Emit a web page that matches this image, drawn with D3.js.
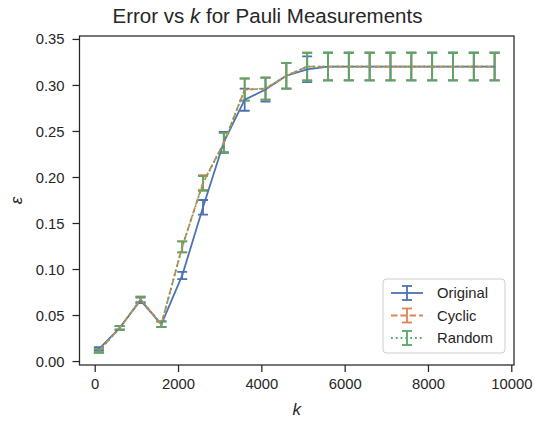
<!DOCTYPE html>
<html>
<head>
<meta charset="utf-8">
<script src="https://cdn.jsdelivr.net/npm/d3@7"></script>
<style>
  html, body { margin: 0; padding: 0; background: #ffffff; }
  svg { display: block; }
  text { font-family: "Liberation Sans", Arial, sans-serif; fill: #262626; }
</style>
</head>
<body>
<svg id="chart" width="535" height="426"></svg>
<script>
// ---- Data ----
const kValues = [100, 600, 1100, 1600, 2100, 2600, 3100, 3600, 4100, 4600, 5100, 5600, 6100, 6600, 7100, 7600, 8100, 8600, 9100, 9600];

const originalValues = [0.013, 0.036, 0.066, 0.040, 0.093, 0.167, 0.238, 0.284, 0.295, 0.310, 0.317, 0.320, 0.320, 0.320, 0.320, 0.320, 0.320, 0.320, 0.320, 0.320];
const originalErrors = [0.002, 0.002, 0.003, 0.003, 0.004, 0.008, 0.011, 0.012, 0.013, 0.014, 0.014, 0.015, 0.015, 0.015, 0.015, 0.015, 0.015, 0.015, 0.015, 0.015];

const cyclicValues = [0.011, 0.036, 0.067, 0.040, 0.124, 0.194, 0.237, 0.295, 0.296, 0.310, 0.320, 0.320, 0.320, 0.320, 0.320, 0.320, 0.320, 0.320, 0.320, 0.320];
const cyclicErrors = [0.002, 0.002, 0.003, 0.003, 0.006, 0.008, 0.011, 0.012, 0.012, 0.014, 0.015, 0.015, 0.015, 0.015, 0.015, 0.015, 0.015, 0.015, 0.015, 0.015];

const randomValues = [0.011, 0.036, 0.067, 0.040, 0.124, 0.193, 0.237, 0.295, 0.296, 0.310, 0.320, 0.320, 0.320, 0.320, 0.320, 0.320, 0.320, 0.320, 0.320, 0.320];
const randomErrors = [0.002, 0.002, 0.003, 0.003, 0.006, 0.008, 0.011, 0.012, 0.012, 0.014, 0.015, 0.015, 0.015, 0.015, 0.015, 0.015, 0.015, 0.015, 0.015, 0.015];

const seriesNames = ["Original", "Cyclic", "Random"];
const xTickValues = [0, 2000, 4000, 6000, 8000, 10000];
const yTickValues = [0.00, 0.05, 0.10, 0.15, 0.20, 0.25, 0.30, 0.35];

const titleText = "Error vs ";
const titleItalic = "k";
const titleRest = " for Pauli Measurements";

// ---- Layout ----
const colors = ["#4C72B0", "#DD8452", "#55A868"];
const dashes = [null, "6.5,2.8", "1.8,3"];
const lw = 1.8;
const series = [
  { name: seriesNames[0], values: originalValues, errors: originalErrors },
  { name: seriesNames[1], values: cyclicValues, errors: cyclicErrors },
  { name: seriesNames[2], values: randomValues, errors: randomErrors }
];

const plot = { left: 79.5, right: 514, top: 36, bottom: 365 };
const svg = d3.select("#chart");

const x = d3.scaleLinear().domain([-365, 10065]).range([plot.left, plot.right]);
const y = d3.scaleLinear().domain([-0.0043, 0.3532]).range([plot.bottom, plot.top]);

// Title
const title = svg.append("text")
  .attr("x", 267.5).attr("y", 23)
  .attr("text-anchor", "middle")
  .style("font-size", "20.5px");
title.append("tspan").text(titleText);
title.append("tspan").style("font-style", "italic").text(titleItalic);
title.append("tspan").text(titleRest);

// Axes
const xAxis = d3.axisBottom(x).tickValues(xTickValues).tickSize(7).tickPadding(6).tickFormat(d3.format("d"));
const yAxis = d3.axisLeft(y).tickValues(yTickValues).tickSize(7).tickPadding(8).tickFormat(d3.format(".2f"));

const gx = svg.append("g").attr("transform", `translate(0,${plot.bottom})`).call(xAxis);
const gy = svg.append("g").attr("transform", `translate(${plot.left},0)`).call(yAxis);
[gx, gy].forEach(g => {
  g.select(".domain").remove();
  g.selectAll(".tick line").attr("stroke", "#262626").attr("stroke-width", 1.25);
  g.selectAll(".tick text").style("font-size", "14.8px").attr("fill", "#262626")
    .style("font-family", "'Liberation Sans', Arial, sans-serif");
});
gy.selectAll(".tick text").attr("dy", "0.34em");

// Frame
svg.append("rect")
  .attr("x", plot.left).attr("y", plot.top)
  .attr("width", plot.right - plot.left).attr("height", plot.bottom - plot.top)
  .attr("fill", "none").attr("stroke", "#262626").attr("stroke-width", 1.25);

// Axis labels
svg.append("text")
  .attr("x", (plot.left + plot.right) / 2).attr("y", 415)
  .attr("text-anchor", "middle")
  .style("font-size", "17px").style("font-style", "italic")
  .text("k");
svg.append("text")
  .attr("transform", `translate(22,${(plot.top + plot.bottom) / 2}) rotate(-90)`)
  .attr("text-anchor", "middle")
  .style("font-size", "17px").style("font-style", "italic")
  .text("ε");

// Clip
svg.append("clipPath").attr("id", "clip").append("rect")
  .attr("x", plot.left).attr("y", plot.top)
  .attr("width", plot.right - plot.left).attr("height", plot.bottom - plot.top);

const plotG = svg.append("g").attr("clip-path", "url(#clip)");
const cap = 5;

// Error bars first
series.forEach((s, i) => {
  const g = plotG.append("g");
  const pts = kValues.map((k, j) => ({ k, v: s.values[j], e: s.errors[j] }));
  g.selectAll("line.bar").data(pts).enter().append("line")
    .attr("x1", d => x(d.k)).attr("x2", d => x(d.k))
    .attr("y1", d => y(d.v - d.e)).attr("y2", d => y(d.v + d.e))
    .attr("stroke", colors[i]).attr("stroke-width", lw);
  ["lo", "hi"].forEach(side => {
    g.selectAll("line.cap" + side).data(pts).enter().append("line")
      .attr("x1", d => x(d.k) - cap).attr("x2", d => x(d.k) + cap)
      .attr("y1", d => y(side === "lo" ? d.v - d.e : d.v + d.e))
      .attr("y2", d => y(side === "lo" ? d.v - d.e : d.v + d.e))
      .attr("stroke", colors[i]).attr("stroke-width", lw);
  });
});

// Lines
const line = d3.line().x(d => x(d.k)).y(d => y(d.v));
series.forEach((s, i) => {
  const pts = kValues.map((k, j) => ({ k, v: s.values[j] }));
  plotG.append("path").datum(pts)
    .attr("d", line)
    .attr("fill", "none")
    .attr("stroke", colors[i])
    .attr("stroke-width", lw)
    .attr("stroke-dasharray", dashes[i]);
});

// Legend
const leg = svg.append("g");
leg.append("rect")
  .attr("x", 383).attr("y", 279).attr("width", 122).attr("height", 74)
  .attr("rx", 3.5).attr("ry", 3.5)
  .attr("fill", "#ffffff").attr("fill-opacity", 0.8)
  .attr("stroke", "#cccccc").attr("stroke-width", 1);
series.forEach((s, i) => {
  const cy = 293 + i * 22.5;
  const x0 = 391, x1 = 423, xm = (x0 + x1) / 2;
  leg.append("line").attr("x1", x0).attr("x2", x1).attr("y1", cy).attr("y2", cy)
    .attr("stroke", colors[i]).attr("stroke-width", lw).attr("stroke-dasharray", dashes[i]);
  leg.append("line").attr("x1", xm).attr("x2", xm).attr("y1", cy - 7).attr("y2", cy + 7)
    .attr("stroke", colors[i]).attr("stroke-width", lw);
  [cy - 7, cy + 7].forEach(yy => {
    leg.append("line").attr("x1", xm - cap).attr("x2", xm + cap).attr("y1", yy).attr("y2", yy)
      .attr("stroke", colors[i]).attr("stroke-width", lw);
  });
  leg.append("text").attr("x", 437).attr("y", cy).attr("dy", "0.35em")
    .style("font-size", "14.8px").text(s.name);
});
</script>
</body>
</html>
